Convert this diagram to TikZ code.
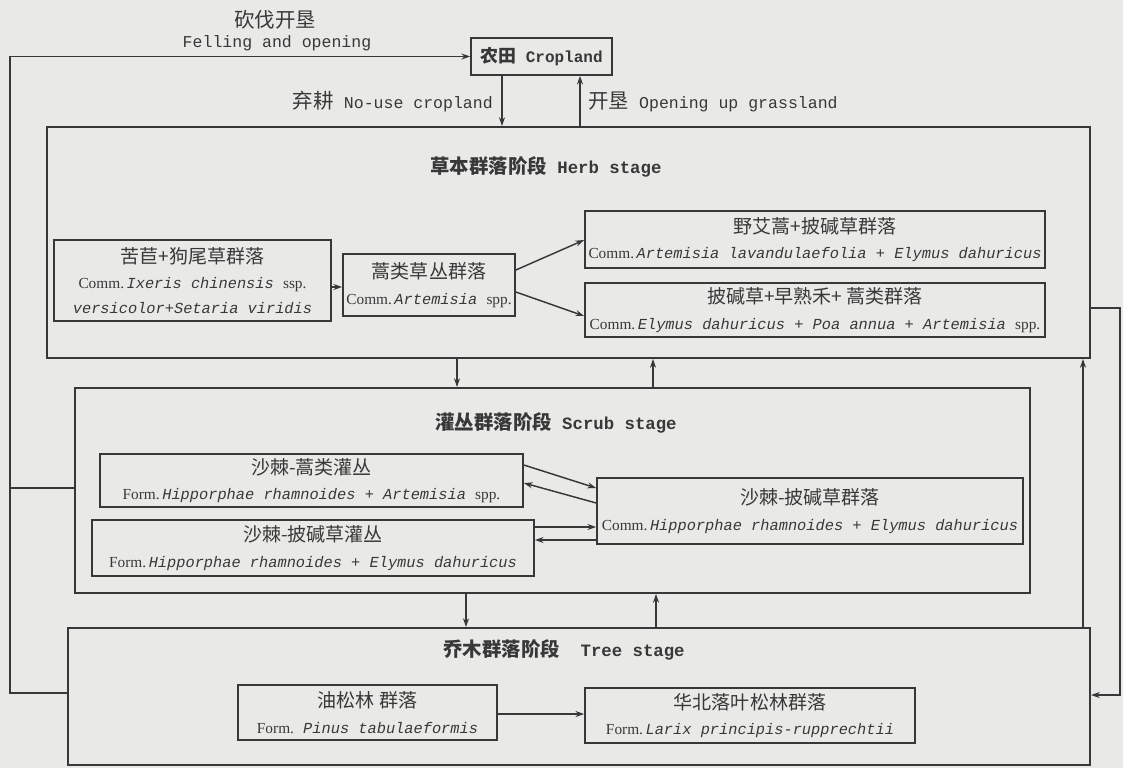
\documentclass[tikz,border=0pt]{standalone}
\usepackage{fontspec}
\setmainfont{Liberation Mono}
\newfontfamily\cjk{Noto Sans CJK SC}[Scale=1.24]
\newfontfamily\cjkt{Noto Sans CJK SC}[Scale=1.12]
\newfontfamily\serf{Liberation Serif}
\usetikzlibrary{arrows.meta}
\definecolor{bgc}{HTML}{E9E9E7}
\definecolor{ink}{HTML}{383838}
\newcommand\zh[1]{{\cjk #1}}
\newcommand\zht[1]{{\cjkt #1}}
\newcommand\rw[1]{{\serf #1}}
\newcommand\sn[1]{\textit{#1}}
\newcommand\cm{\rw{Comm.}}
\newcommand\fm{\rw{Form.}}
% box from pixel corners: name, x1, y1, x2, y2, style, text
\newcommand\mybox[7]{\node[#6, minimum width={(#4-#2)*0.75pt}, minimum height={(#5-#3)*0.75pt}] (#1) at ({(#2+#4)/2},{(#3+#5)/2}) {#7};}
\begin{document}
\begin{tikzpicture}[x=0.75pt,y=-0.75pt,
 every node/.style={text=ink},
 stage/.style={draw=ink,line width=1.5pt,inner sep=0pt},
 cbox/.style={draw=ink,line width=1.3pt,inner sep=0pt,align=center,font=\fontsize{11.5}{19}\selectfont},
 ttl/.style={font=\fontsize{13}{15}\selectfont\bfseries},
 lbl/.style={font=\fontsize{12.4}{15}\selectfont, inner sep=0pt},
 conn/.style={draw=ink,line width=1.1pt,-{Stealth[length=6.5pt,width=4.5pt]}},
 plain/.style={draw=ink,line width=1.1pt}]
\fill[bgc] (0,0) rectangle (1123,768);
\useasboundingbox (0,0) rectangle (1123,768);

% cropland
\mybox{crop}{471}{38}{612}{75}{cbox, font=\fontsize{12}{15}\selectfont\bfseries}{\zht{农田} Cropland}

% stage frames
\mybox{herb}{47}{127}{1090}{358}{stage}{}
\mybox{scrub}{75}{388}{1030}{593}{stage}{}
\mybox{tree}{68}{628}{1090}{765}{stage}{}

\node[ttl] (herbT) at (546,167) {\zht{草本群落阶段} Herb stage};
\node[ttl] (scrubT) at (556,423) {\zht{灌丛群落阶段} Scrub stage};
\node[ttl] (treeT) at (564,650) {\zht{乔木群落阶段}\ \ Tree stage};

% herb communities
\mybox{A}{54}{240}{331}{321}{cbox}{\zh{苦苣+狗尾草群落}\\\cm\,\sn{Ixeris chinensis} \rw{ssp.}\\\sn{versicolor+Setaria viridis}}
\mybox{B}{343}{254}{515}{316}{cbox}{\zh{蒿类草丛群落}\\\cm\,\sn{Artemisia} \rw{spp.}}
\mybox{C}{585}{211}{1045}{268}{cbox}{\zh{野艾蒿+披碱草群落}\\\cm\,\sn{Artemisia lavandulaefolia} + \sn{Elymus dahuricus}}
\mybox{D}{585}{283}{1045}{337}{cbox}{\zh{披碱草+早熟禾+ 蒿类群落}\\\cm\,\sn{Elymus dahuricus} + \sn{Poa annua} + \sn{Artemisia} \rw{spp.}}

% scrub communities
\mybox{E}{100}{454}{523}{507}{cbox}{\zh{沙棘-蒿类灌丛}\\\fm\,\sn{Hipporphae rhamnoides} + \sn{Artemisia} \rw{spp.}}
\mybox{F}{92}{520}{534}{576}{cbox}{\zh{沙棘-披碱草灌丛}\\\fm\,\sn{Hipporphae rhamnoides} + \sn{Elymus dahuricus}}
\mybox{G}{597}{478}{1023}{544}{cbox}{\zh{沙棘-披碱草群落}\\\cm\,\sn{Hipporphae rhamnoides} + \sn{Elymus dahuricus}}

% tree communities
\mybox{H}{238}{685}{497}{740}{cbox}{\zh{油松林 群落}\\\fm\ \sn{Pinus tabulaeformis}}
\mybox{I}{585}{688}{915}{743}{cbox}{\zh{华北落叶松林群落}\\\fm\,\sn{Larix principis-rupprechtii}}

% labels
\node[lbl] (fellzh) at (275,20) {\zh{砍伐开垦}};
\node[lbl] (fellen) at (277,43) {Felling and opening};
\node[lbl, anchor=east] (nouse) at (493,102) {\zh{弃耕} No-use cropland};
\node[lbl, anchor=west] (openup) at (588,102) {\zh{开垦} Opening up grassland};

% helper coordinates
\coordinate (xa) at (502,0);
\coordinate (xb) at (580,0);
\coordinate (xc) at (457,0);
\coordinate (xd) at (653,0);
\coordinate (xe) at (466,0);
\coordinate (xf) at (656,0);
\coordinate (xg) at (1083,0);
\coordinate (L1) at (10,693);
\coordinate (L2) at (10,56.5);
\coordinate (S1) at (10,488);
\coordinate (R1) at (1120,308);
\coordinate (R2) at (1120,695);
\coordinate (yab) at (0,287);
\coordinate (yb1) at (0,270);
\coordinate (yc1) at (0,240);
\coordinate (yb2) at (0,292);
\coordinate (yd1) at (0,316);
\coordinate (ye1) at (0,465);
\coordinate (yg1) at (0,488);
\coordinate (yg2) at (0,503);
\coordinate (ye2) at (0,483);
\coordinate (yf1) at (0,527);
\coordinate (yf2) at (0,540);
\coordinate (yhi) at (0,714);

% cropland connectors
\draw[conn] (crop.south -| xa) -- (herb.north -| xa);
\draw[conn] (herb.north -| xb) -- (crop.south -| xb);
\draw[conn] (tree.west |- L1) -- (L1) -- (L2) -- (crop.west);
\draw[plain] (scrub.west |- S1) -- (S1);

% stage connectors
\draw[conn] (herb.south -| xc) -- (scrub.north -| xc);
\draw[conn] (scrub.north -| xd) -- (herb.south -| xd);
\draw[conn] (scrub.south -| xe) -- (tree.north -| xe);
\draw[conn] (tree.north -| xf) -- (scrub.south -| xf);
\draw[conn] (tree.north -| xg) -- (herb.south -| xg);
\draw[conn] (herb.east |- R1) -- (R1) -- (R2) -- (tree.east |- R2);

% herb arrows
\draw[conn] (A.east |- yab) -- (B.west |- yab);
\draw[conn] (B.east |- yb1) -- (C.west |- yc1);
\draw[conn] (B.east |- yb2) -- (D.west |- yd1);

% scrub arrows
\draw[conn] (E.east |- ye1) -- (G.west |- yg1);
\draw[conn] (G.west |- yg2) -- (E.east |- ye2);
\draw[conn] (F.east |- yf1) -- (G.west |- yf1);
\draw[conn] (G.west |- yf2) -- (F.east |- yf2);

% tree arrow
\draw[conn] (H.east |- yhi) -- (I.west |- yhi);
\end{tikzpicture}
\end{document}
